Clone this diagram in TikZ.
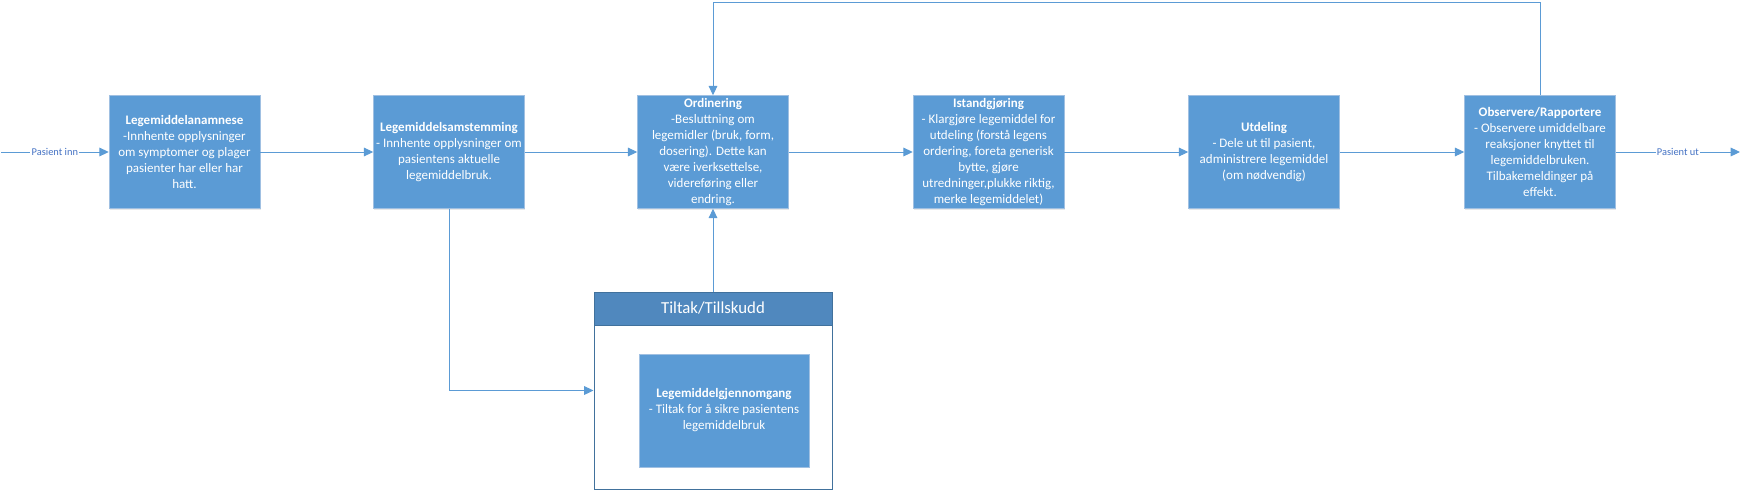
\documentclass[tikz,border=0pt]{standalone}
\usepackage{fontspec}
\setmainfont{Carlito}
\usetikzlibrary{arrows.meta,shadows}
\definecolor{boxblue}{RGB}{91,155,213}
\definecolor{boxedge}{RGB}{160,192,226}
\definecolor{hdrblue}{RGB}{80,136,190}
\definecolor{grpedge}{RGB}{65,113,156}
\definecolor{lblblue}{RGB}{68,114,196}

\begin{document}
\begin{tikzpicture}
[
x=0.75pt, y=-0.75pt,
stepbox/.style={draw=boxedge,fill=boxblue,text=white,align=center,inner sep=0pt,
            minimum width=113.25pt,minimum height=84.75pt,
            font=\fontsize{9.75}{12}\selectfont,
            drop shadow={shadow xshift=0.6pt,shadow yshift=-0.9pt,opacity=0.18}},
conn/.style={draw=boxblue,line width=0.75pt,-{Triangle[length=7pt,width=6.5pt]}},
flowlabel/.style={fill=white,text=lblblue,inner sep=1pt,font=\fontsize{7.8}{9}\selectfont},
container/.style={draw=grpedge,line width=0.75pt,inner sep=0pt,
            minimum width=178.5pt,minimum height=147.75pt},
header/.style={draw=grpedge,fill=hdrblue,text=white,inner sep=0pt,
            minimum width=178.5pt,minimum height=24.75pt,
            font=\fontsize{12.6}{14}\selectfont},
]
\useasboundingbox (0,0) rectangle (1741,497);

%Place the nodes
\node[stepbox] (anam) at (184.5,152) {\textbf{Legemiddelanamnese}\\-Innhente opplysninger\\om symptomer og plager\\pasienter har eller har\\hatt.};
\node[stepbox] (samst) at (449,152) {\textbf{Legemiddelsamstemming}\\- Innhente opplysninger om\\pasientens aktuelle\\legemiddelbruk.};
\node[stepbox] (ord) at (713,152) {\textbf{Ordinering}\\-Besluttning om\\legemidler (bruk, form,\\dosering). Dette kan\\være iverksettelse,\\videreføring eller\\endring.};
\node[stepbox] (istand) at (988.5,152) {\textbf{Istandgjøring}\\- Klargjøre legemiddel for\\utdeling (forstå legens\\ordering, foreta generisk\\bytte, gjøre\\utredninger,plukke riktig,\\merke legemiddelet)};
\node[stepbox] (utdel) at (1264,152) {\textbf{Utdeling}\\- Dele ut til pasient,\\administrere legemiddel\\(om nødvendig)};
\node[stepbox] (obs) at (1540,152) {\textbf{Observere/Rapportere}\\- Observere umiddelbare\\reaksjoner knyttet til\\legemiddelbruken.\\Tilbakemeldinger på\\effekt.};

\node[container] (grp) at (713,390.5) {};
\node[header] (hdr) at (713,308.5) {Tiltak/Tillskudd};
\node[stepbox,minimum width=127.5pt] (lmg) at (724,410.5) {\textbf{Legemiddelgjennomgang}\\- Tiltak for å sikre pasientens\\legemiddelbruk};

\coordinate (in) at (1,152);
\coordinate (out) at (1740,152);
\coordinate (top) at (713,2);

%Draw the connections
\draw[conn] (in) -- node[flowlabel] {Pasient inn} (anam);
\draw[conn] (anam) -- (samst);
\draw[conn] (samst) -- (ord);
\draw[conn] (ord) -- (istand);
\draw[conn] (istand) -- (utdel);
\draw[conn] (utdel) -- (obs);
\draw[conn] (obs) -- node[flowlabel] {Pasient ut} (out);

\draw[conn] (samst.south) |- (grp.west);
\draw[conn] (grp.north) -- (ord.south);
\draw[conn] (obs.north) |- (top) -- (ord.north);
\end{tikzpicture}
\end{document}
